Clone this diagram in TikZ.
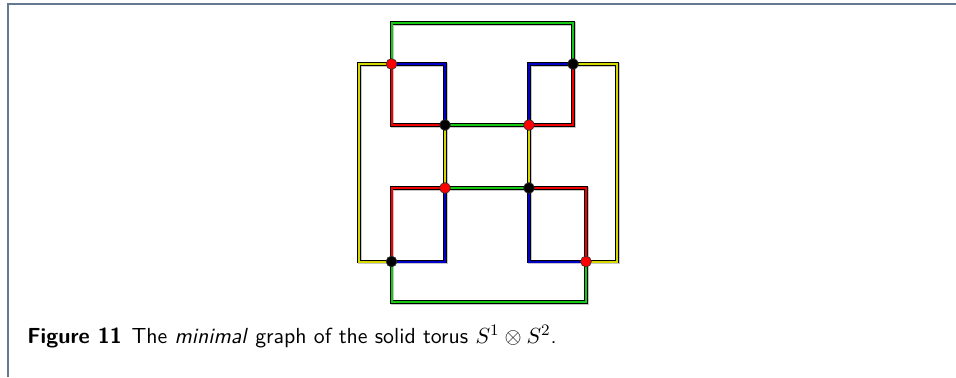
\documentclass[tikz,border=0pt]{standalone}
\usepackage{amsmath}
\begin{document}
\definecolor{framecol}{RGB}{100,120,145}
\definecolor{gred}{RGB}{240,0,0}
\definecolor{gblue}{RGB}{0,0,200}
\definecolor{ggreen}{RGB}{20,200,20}
\definecolor{gyellow}{RGB}{215,215,0}
\newcommand\alledges[1]{%
  % green
  \draw[draw=ggreen,#1] (v1) |- (ctop) -| (v2);
  \draw[draw=ggreen,#1] (v3) -- (v4);
  \draw[draw=ggreen,#1] (v5) -- (v6);
  \draw[draw=ggreen,#1] (v7) |- (cbot) -| (v8);
  % yellow
  \draw[draw=gyellow,#1] (v1) -| (cleft) |- (v7);
  \draw[draw=gyellow,#1] (v2) -| (cright) |- (v8);
  \draw[draw=gyellow,#1] (v3) -- (v5);
  \draw[draw=gyellow,#1] (v4) -- (v6);
  % blue
  \draw[draw=gblue,#1] (v1) -| (v3);
  \draw[draw=gblue,#1] (v4) |- (v2);
  \draw[draw=gblue,#1] (v5) |- (v7);
  \draw[draw=gblue,#1] (v6) |- (v8);
  % red
  \draw[draw=gred,#1] (v1) |- (v3);
  \draw[draw=gred,#1] (v4) -| (v2);
  \draw[draw=gred,#1] (v5) -| (v7);
  \draw[draw=gred,#1] (v6) -| (v8);
}
\begin{tikzpicture}[x=0.5pt,y=-0.5pt,
  vert/.style={circle,draw=black!80,line width=0.3pt,inner sep=0pt,minimum size=5.4pt},
  redv/.style={vert,fill=red},
  blackv/.style={vert,fill=black},
  shadowlayer/.style={draw=black!22,line width=1.8pt,line join=miter,transform canvas={shift={(0.4pt,-0.4pt)}}},
  darklayer/.style={draw=black,line width=1.6pt,line join=miter},
  colourlayer/.style={line width=1pt,line join=miter}]
\useasboundingbox (0,0) rectangle (956,377);
% frame
\draw[framecol,line width=0.8pt] (8,377) -- (8,4) -- (956,4);
% coordinates
\coordinate (v1) at (391.5,64);
\coordinate (v2) at (573,64);
\coordinate (v3) at (445,125);
\coordinate (v4) at (529,125);
\coordinate (v5) at (445,188);
\coordinate (v6) at (529,188);
\coordinate (v7) at (391.5,261.5);
\coordinate (v8) at (586,261.5);
\coordinate (ctop) at (480,23);
\coordinate (cbot) at (480,302);
\coordinate (cleft) at (359,160);
\coordinate (cright) at (617,160);
% edges in layers
\alledges{shadowlayer}
\alledges{darklayer}
\alledges{colourlayer}
% vertices
\node[redv] (n1) at (v1) {};
\node[blackv] (n2) at (v2) {};
\node[blackv] (n3) at (v3) {};
\node[redv] (n4) at (v4) {};
\node[redv] (n5) at (v5) {};
\node[blackv] (n6) at (v6) {};
\node[blackv] (n7) at (v7) {};
\node[redv] (n8) at (v8) {};
% caption
\node[anchor=base west,inner sep=0pt,font=\fontsize{10.9}{13}\selectfont\sffamily] (cap) at (27,343)
  {\textbf{Figure 11}\hspace{0.45em}The \textit{minimal} graph of the solid torus $S^1\otimes S^2$.};
\end{tikzpicture}
\end{document}
